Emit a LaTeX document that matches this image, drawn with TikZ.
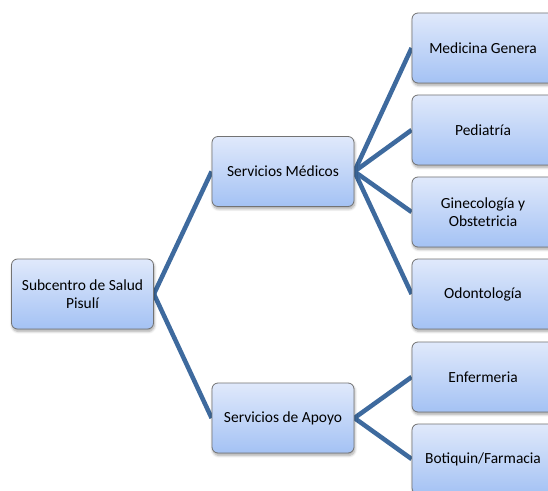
\documentclass[tikz,border=0pt]{standalone}
\usepackage{fontspec}
\setmainfont{Carlito}
\usetikzlibrary{shadows.blur, backgrounds}

\definecolor{boxtop}{RGB}{224,233,251}
\definecolor{boxbottom}{RGB}{164,194,244}
\definecolor{boxedge}{RGB}{115,115,115}
\definecolor{linkblue}{RGB}{62,106,158}

\begin{document}
\begin{tikzpicture}[x = 0.75pt, y = -0.75pt,
	unit/.style = {draw = boxedge, line width = 0.6pt, rounded corners = 4.5pt,
		top color = boxtop, bottom color = boxbottom,
		minimum width = 106.5pt, minimum height = 52.5pt, align = center,
		font = \fontsize{11.6}{13.5}\selectfont,
		blur shadow = {shadow xshift = 0.6pt, shadow yshift = -1.8pt, shadow opacity = 35, shadow blur steps = 6}},
	link/.style = {linkblue, line width = 3.4pt}]

	% Frame
	
	\useasboundingbox (0, 0) rectangle (548, 491);
	
	% Root and second level
	
	\node [unit] (root) at (82.5, 294) {Subcentro de Salud\\Pisulí};
	\node [unit] (medicos) at (283, 171.5) {Servicios Médicos};
	\node [unit] (apoyo) at (283, 418) {Servicios de Apoyo};
	
	% Third level
	
	\foreach \y/\name/\label in {48/medgen/Medicina Genera, 130/pediatria/Pediatría, 212/gineco/{Ginecología y\\Obstetricia}, 294/odonto/Odontología, 377/enfer/Enfermeria, 459/botiquin/{Botiquin/Farmacia}}
		\node [unit] (\name) at (483, \y) {\label};
	
	% Connectors
	
	\begin{scope}[on background layer]
		\draw [link] (root.east) -- (medicos.west);
		\draw [link] (root.east) -- (apoyo.west);
		\foreach \name in {medgen, pediatria, gineco, odonto}
			\draw [link] (medicos.east) -- (\name.west);
		\foreach \name in {enfer, botiquin}
			\draw [link] (apoyo.east) -- (\name.west);
	\end{scope}
	
\end{tikzpicture}
\end{document}
